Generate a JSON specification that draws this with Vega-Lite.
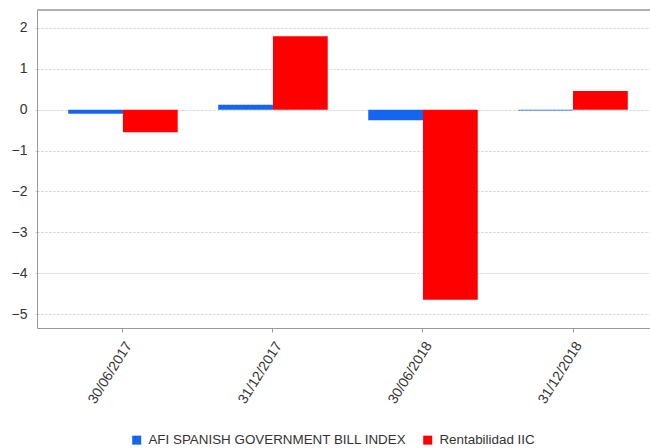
{
  "$schema": "https://vega.github.io/schema/vega-lite/v6.json",
  "autosize": "none",
  "width": 613,
  "height": 318,
  "padding": {"left": 37, "top": 10, "right": 0, "bottom": 120},
  "background": "white",
  "config": {
    "font": "Liberation Sans",
    "view": {"stroke": null}
  },
  "data": {
    "values": [
      {"fecha": "30/06/2017", "serie": "AFI SPANISH GOVERNMENT BILL INDEX", "valor": -0.10},
      {"fecha": "30/06/2017", "serie": "Rentabilidad IIC", "valor": -0.55},
      {"fecha": "31/12/2017", "serie": "AFI SPANISH GOVERNMENT BILL INDEX", "valor": 0.12},
      {"fecha": "31/12/2017", "serie": "Rentabilidad IIC", "valor": 1.80},
      {"fecha": "30/06/2018", "serie": "AFI SPANISH GOVERNMENT BILL INDEX", "valor": -0.26},
      {"fecha": "30/06/2018", "serie": "Rentabilidad IIC", "valor": -4.65},
      {"fecha": "31/12/2018", "serie": "AFI SPANISH GOVERNMENT BILL INDEX", "valor": -0.02},
      {"fecha": "31/12/2018", "serie": "Rentabilidad IIC", "valor": 0.46}
    ]
  },
  "layer": [
    {
      "mark": {"type": "bar"},
      "encoding": {
        "x": {
          "field": "fecha",
          "type": "nominal",
          "sort": null,
          "scale": {"paddingInner": 0.27, "paddingOuter": 0.178, "align": 0.584},
          "axis": {
            "title": null,
            "labelAngle": -58,
            "labelFontSize": 14,
            "labelColor": "#333333",
            "labelBaseline": "top",
            "labelPadding": 7,
            "domainColor": "#999999",
            "tickColor": "#999999",
            "tickSize": 4,
            "grid": false
          }
        },
        "xOffset": {
          "field": "serie",
          "type": "nominal",
          "sort": ["AFI SPANISH GOVERNMENT BILL INDEX", "Rentabilidad IIC"]
        },
        "y": {
          "field": "valor",
          "type": "quantitative",
          "scale": {"domain": [-5.34, 2.44], "nice": false, "zero": false},
          "axis": {
            "title": null,
            "values": [-5, -4, -3, -2, -1, 0, 1, 2],
            "labelFontSize": 14,
            "labelColor": "#333333",
            "domainColor": "#999999",
            "tickColor": "#cccccc",
            "tickSize": 4,
            "tickDash": [2, 2],
            "labelPadding": 6,
            "gridColor": "#cccccc",
            "gridDash": [2, 2],
            "gridWidth": 1
          }
        },
        "color": {
          "field": "serie",
          "type": "nominal",
          "scale": {
            "domain": ["AFI SPANISH GOVERNMENT BILL INDEX", "Rentabilidad IIC"],
            "range": ["#1565ef", "#ff0000"]
          },
          "legend": {
            "title": null,
            "orient": "none",
            "legendX": 93,
            "legendY": 423,
            "direction": "horizontal",
            "symbolType": "square",
            "symbolSize": 81,
            "symbolStrokeWidth": 0,
            "labelFontSize": 13.4,
            "labelColor": "#333333",
            "labelOffset": 5,
            "columnPadding": 14,
            "labelLimit": 400
          }
        }
      }
    },
    {
      "mark": {"type": "rule", "color": "#b0b0b0", "strokeWidth": 1},
      "encoding": {"y": {"datum": 2.44}}
    }
  ]
}
